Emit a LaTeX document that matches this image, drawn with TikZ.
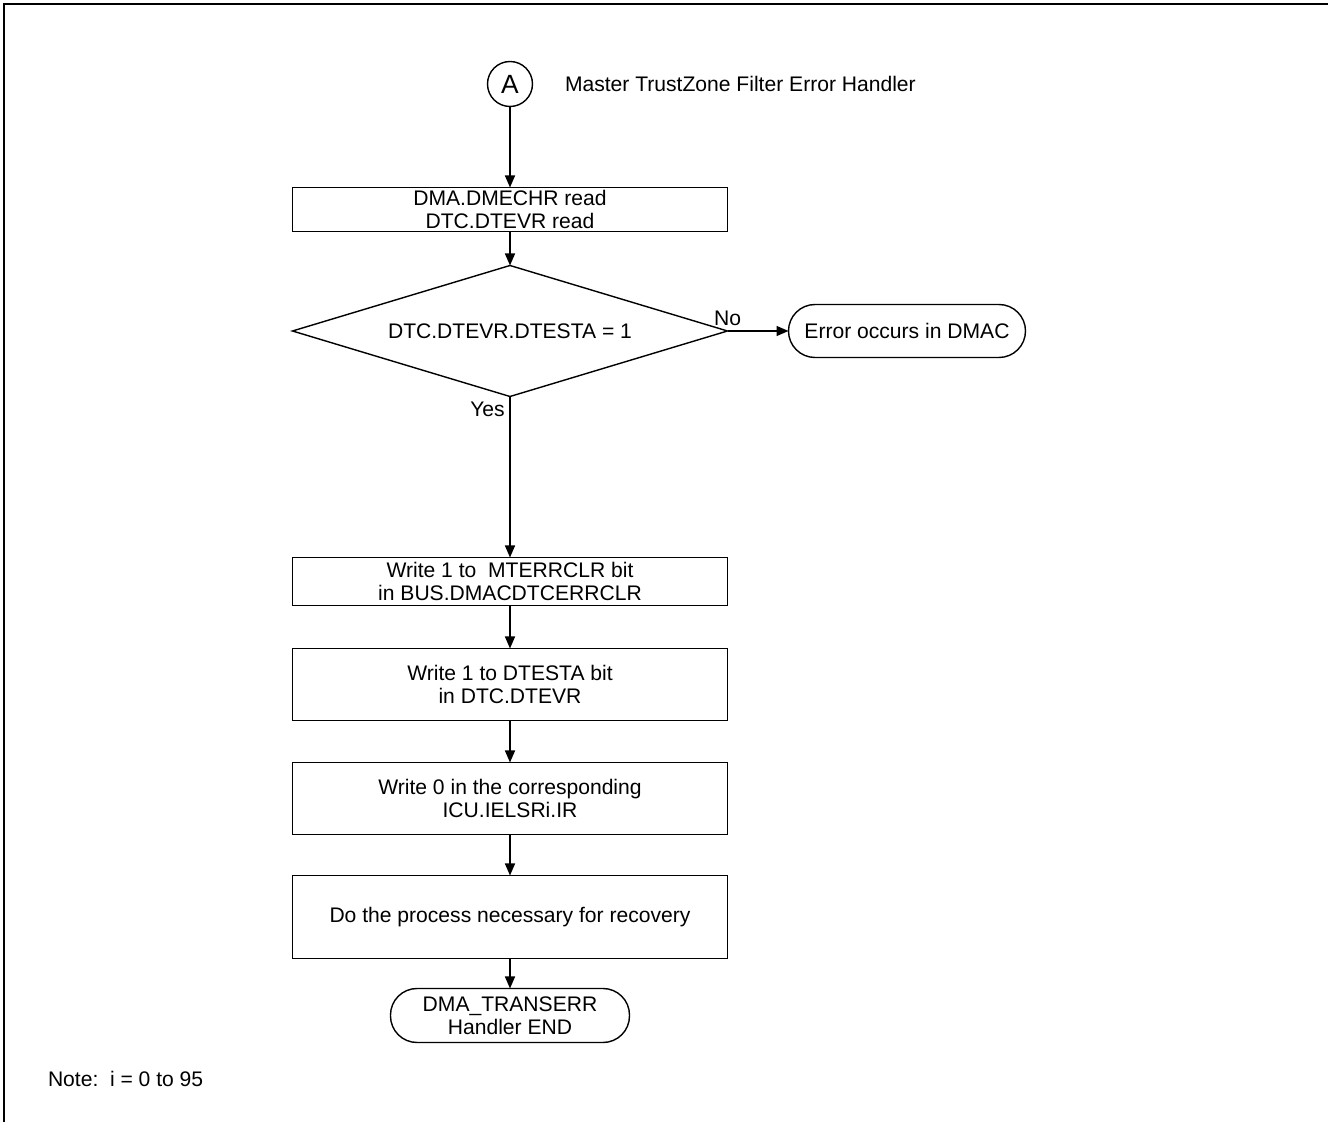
\documentclass[tikz,border=0pt]{standalone}
\usepackage{fontspec}
\setmainfont{Liberation Sans}
\usepackage{tikz}
\usetikzlibrary{shapes.geometric, arrows.meta, positioning, calc}

\begin{document}
\begin{tikzpicture}[
  font=\fontsize{12}{12.8}\selectfont,
  line width=0.8pt,
  outer sep=0pt,
  block/.style={draw,align=center,minimum width=8.7cm,inner sep=0pt},
  decision/.style={draw,diamond,aspect=3.32,align=center,minimum width=8.7cm,minimum height=2.62cm,inner sep=0pt},
  terminal/.style={draw,rounded corners=0.53cm,align=center,minimum height=1.06cm,inner sep=0pt},
  connector/.style={draw,circle,minimum size=0.9cm,inner sep=0pt,font=\fontsize{15}{18}\selectfont},
  arrow/.style={-{Triangle[length=2.4mm,width=2mm]}}
]
  \useasboundingbox (0,0) rectangle (26.6,-22.44);
  \draw (26.56,-0.08) -- (0.08,-0.08) -- (0.08,-22.44);
  \node[connector] (entry) at (10.2,-1.68) {A};
  \node[right=0.65cm of entry,inner sep=0pt] (title) {Master TrustZone Filter Error Handler};
  \node[block,below=1.62cm of entry,minimum height=0.88cm] (readregs) {DMA.DMECHR read\\DTC.DTEVR read};
  \node[decision,below=0.68cm of readregs] (check) {DTC.DTEVR.DTESTA = 1};
  \node[terminal,right=1.22cm of check,minimum width=4.74cm] (dmacerr) {Error occurs in DMAC};
  \node[block,below=3.22cm of check,minimum height=0.96cm] (clrbus) {Write 1 to \ MTERRCLR bit\\in BUS.DMACDTCERRCLR};
  \node[block,below=0.86cm of clrbus,minimum height=1.44cm] (clrdtc) {Write 1 to DTESTA bit\\in DTC.DTEVR};
  \node[block,below=0.84cm of clrdtc,minimum height=1.44cm] (clricu) {Write 0 in the corresponding\\ICU.IELSRi.IR};
  \node[block,below=0.82cm of clricu,minimum height=1.66cm] (recover) {Do the process necessary for recovery};
  \node[terminal,below=0.6cm of recover,minimum width=4.78cm,minimum height=1.08cm] (finish) {DMA\_TRANSERR\\Handler END};
  \node[anchor=base west,inner sep=0pt] (note) at (0.96,-21.72) {Note:};
  \node[anchor=base west,inner sep=0pt] (noteval) at (2.2,-21.72) {i = 0 to 95};
  \draw[arrow] (entry)--(readregs); \draw[arrow] (readregs)--(check);
  \draw[arrow] (check.east)--node[at start,above,inner sep=3pt]{No}(dmacerr);
  \draw[arrow] (check.south)--node[at start,below left,inner sep=3pt]{Yes}(clrbus);
  \draw[arrow] (clrbus)--(clrdtc); \draw[arrow] (clrdtc)--(clricu);
  \draw[arrow] (clricu)--(recover); \draw[arrow] (recover)--(finish);
\end{tikzpicture}
\end{document}
